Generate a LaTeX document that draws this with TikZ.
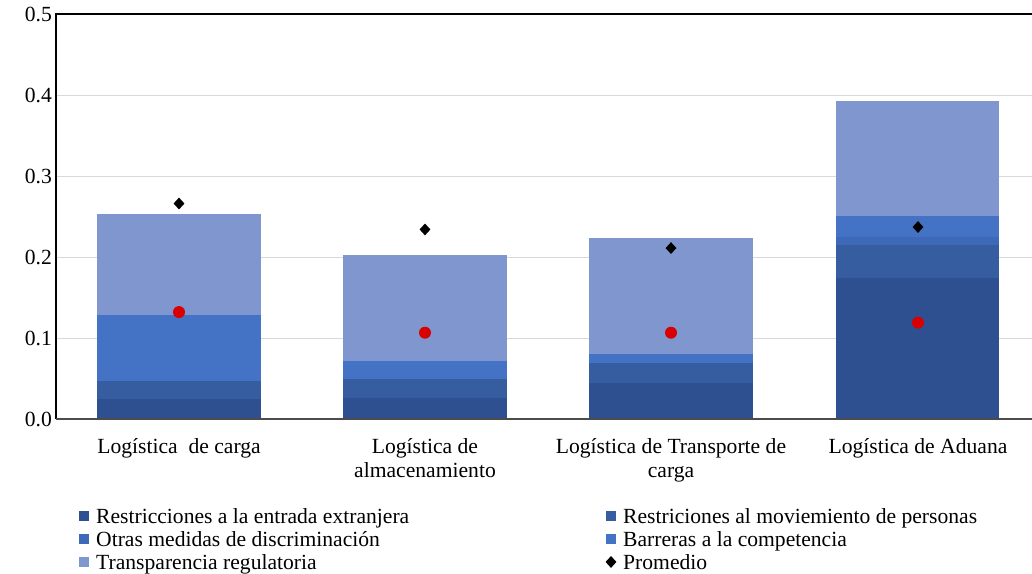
\documentclass[tikz,border=0pt]{standalone}
\usepackage{fontspec}
\setmainfont{Liberation Serif}
\usepackage{tikz}
\usetikzlibrary{shapes}
\definecolor{entrada}{HTML}{2F5090}
\definecolor{movim}{HTML}{355DA0}
\definecolor{otras}{HTML}{3E69B8}
\definecolor{barreras}{HTML}{4472C4}
\definecolor{transp}{HTML}{7F97CE}
\definecolor{gridgray}{HTML}{D9D9D9}
\definecolor{redpt}{HTML}{D80000}
\newcommand{\barseg}[5]{\fill[#5] (#1,#2) rectangle (#3,#4);}
\newcommand{\gridln}[1]{\draw[gridgray,line width=0.9pt] (57,#1) -- (1032,#1);}
\newcommand{\ticklab}[2]{\node[anchor=east,inner sep=0pt] (#1) at (52,#2) {#2};}
\newcommand{\redpt}[3]{\node[circle,fill=redpt,inner sep=0pt,minimum size=12pt] (#1) at (#2,#3) {};}
\newcommand{\avgpt}[3]{\node[diamond,fill=black,inner sep=0pt,minimum width=11pt,minimum height=12pt] (#1) at (#2,#3) {};}
\newcommand{\legsq}[4]{\node[fill=#4,inner sep=0pt,minimum size=10pt] (#1) at (#2,#3) {};}
\newcommand{\legtxt}[4]{\node[anchor=base west,inner sep=0pt] (#1) at (#2,#3) {#4};}

\begin{document}
\begin{tikzpicture}[x=1pt,y=810pt,font=\fontsize{21.6}{24}\selectfont]
\useasboundingbox (0,-0.19136) rectangle (1032,0.51728);
% grid lines
\gridln{0.1}
\gridln{0.2}
\gridln{0.3}
\gridln{0.4}
% tick labels
\ticklab{t0}{0.0}
\ticklab{t1}{0.1}
\ticklab{t2}{0.2}
\ticklab{t3}{0.3}
\ticklab{t4}{0.4}
\ticklab{t5}{0.5}
% bar 1
\barseg{97}{0}{261}{0.025}{entrada}
\barseg{97}{0.025}{261}{0.047}{movim}
\barseg{97}{0.047}{261}{0.128}{barreras}
\barseg{97}{0.128}{261}{0.253}{transp}
% bar 2
\barseg{343}{0}{507}{0.026}{entrada}
\barseg{343}{0.026}{507}{0.049}{movim}
\barseg{343}{0.049}{507}{0.072}{barreras}
\barseg{343}{0.072}{507}{0.203}{transp}
% bar 3
\barseg{589}{0}{753}{0.044}{entrada}
\barseg{589}{0.044}{753}{0.069}{movim}
\barseg{589}{0.069}{753}{0.080}{barreras}
\barseg{589}{0.080}{753}{0.224}{transp}
% bar 4
\barseg{836}{0}{999}{0.174}{entrada}
\barseg{836}{0.174}{999}{0.215}{movim}
\barseg{836}{0.215}{999}{0.225}{otras}
\barseg{836}{0.225}{999}{0.250}{barreras}
\barseg{836}{0.250}{999}{0.392}{transp}
% frame
\draw[line width=1.3pt] (56,0) -- (56,0.5) -- (1032,0.5);
\draw[black!70,line width=1.3pt] (56,0) -- (1032,0);
% red points
\redpt{r1}{179}{0.132}
\redpt{r2}{425}{0.1065}
\redpt{r3}{671}{0.1065}
\redpt{r4}{918}{0.119}
% averages
\avgpt{p1}{179}{0.266}
\avgpt{p2}{425}{0.234}
\avgpt{p3}{671}{0.211}
\avgpt{p4}{918}{0.237}
% category labels
\node[anchor=north,align=center,inner sep=0pt] (c1) at (179,-0.0235) {Logística~ de carga};
\node[anchor=north,align=center,inner sep=0pt] (c2) at (425,-0.0235) {Logística de\\almacenamiento};
\node[anchor=north,align=center,inner sep=0pt] (c3) at (671,-0.0235) {Logística de Transporte de\\carga};
\node[anchor=north,align=center,inner sep=0pt] (c4) at (918,-0.0235) {Logística de Aduana};
% legend column 1
\legsq{s1}{84}{-0.1198}{entrada}
\legsq{s3}{84}{-0.1481}{otras}
\legsq{s5}{84}{-0.1765}{transp}
\legtxt{l1}{96}{-0.1284}{Restricciones a la entrada extranjera}
\legtxt{l3}{96}{-0.1568}{Otras medidas de discriminación}
\legtxt{l5}{96}{-0.1852}{Transparencia regulatoria}
% legend column 2
\legsq{s2}{611}{-0.1198}{movim}
\legsq{s4}{611}{-0.1481}{barreras}
\avgpt{s6}{611}{-0.1765}
\legtxt{l2}{623}{-0.1284}{Restriciones al moviemiento de personas}
\legtxt{l4}{623}{-0.1568}{Barreras a la competencia}
\legtxt{l6}{623}{-0.1852}{Promedio}
\end{tikzpicture}
\end{document}
